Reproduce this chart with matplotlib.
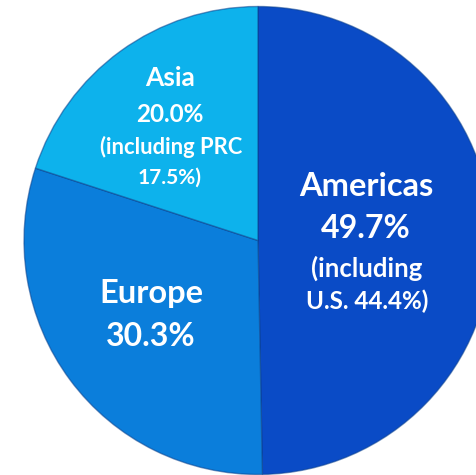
import matplotlib
matplotlib.use("Agg")
import matplotlib.pyplot as plt

# region shares (percent)
regions = ["Americas", "Europe", "Asia"]
shares = [49.7, 30.3, 20.0]
colors = ["#0A4BC6", "#0B7EDB", "#0DB2EC"]

labels = [
    ["Americas", "49.7%", "(including", "U.S. 44.4%)"],
    ["Europe", "30.3%"],
    ["Asia", "20.0%", "(including PRC", "17.5%)"],
]

W, H = 477, 475
fig = plt.figure(figsize=(W / 100, H / 100), dpi=100)
ax = fig.add_axes([0, 0, 1, 1])

cx, cy, r = 258, H - 240.5, 234

wedges, _ = ax.pie(shares, colors=colors, startangle=90, counterclock=False,
                   center=(cx, cy), radius=r, frame=True,
                   wedgeprops=dict(edgecolor=(0.04, 0.25, 0.55, 0.55), linewidth=1.0))
ax.set_xlim(0, W)
ax.set_ylim(0, H)
ax.set_aspect("equal")
ax.axis("off")

font = "Lato"

def put(x, y_img, s, size):
    ax.text(x, H - y_img, s, ha="center", va="center", color="white",
            fontsize=size, fontweight="bold", family=font)

# Americas
put(366, 186, labels[0][0], 23.5)
put(366, 229, labels[0][1], 23)
put(367, 268, labels[0][2], 18.5)
put(367, 301, labels[0][3], 17.5)
# Europe
put(151, 293, labels[1][0], 23.5)
put(151, 336, labels[1][1], 23)
# Asia
put(170, 78, labels[2][0], 19)
put(170, 114, labels[2][1], 17.5)
put(171, 147, labels[2][2], 15.8)
put(170, 178, labels[2][3], 15)

fig.savefig("out.png", dpi=100)
